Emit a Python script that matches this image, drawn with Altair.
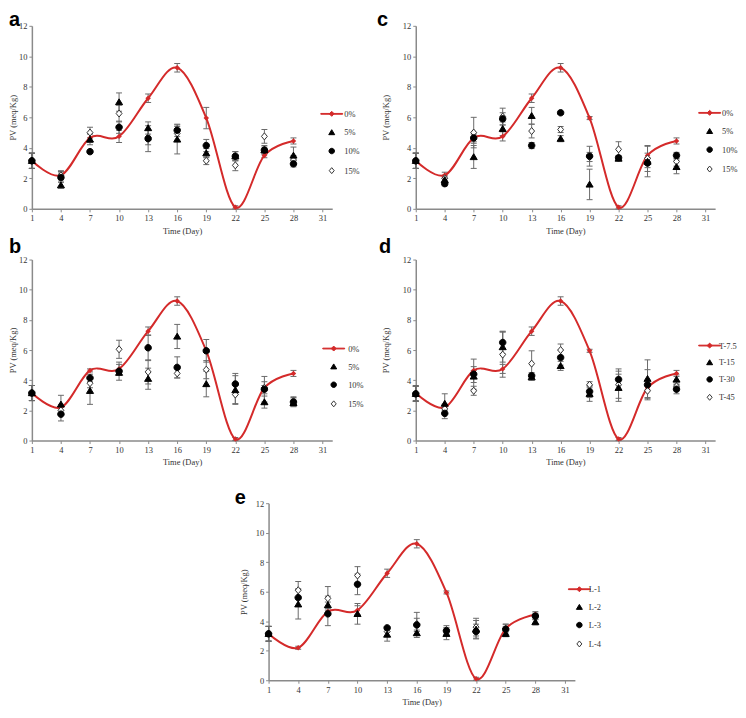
import altair as alt
import pandas as pd

DAYS = [1, 4, 7, 10, 13, 16, 19, 22, 25, 28]
X_TICKS = [1, 4, 7, 10, 13, 16, 19, 22, 25, 28, 31]
Y_TICKS = [0, 2, 4, 6, 8, 10, 12]

LABELS_PCT = ["0%", "5%", "10%", "15%"]
LABELS_T = ["T-7.5", "T-15", "T-30", "T-45"]
LABELS_L = ["L-1", "L-2", "L-3", "L-4"]

# control (red) series, identical in every panel
CONTROL = [3.15, 2.2, 4.65, 4.75, 7.25, 9.25, 5.95, 0.1, 3.5, 4.45]

# panel a
A_RED_ERR = [0.5, 0.25, 0.3, 0.4, 0.28, 0.28, 0.7, 0.1, 0.15, 0.2]
A_5 = [3.15, 1.55, 4.55, 7.0, 5.3, 4.55, 3.65, 3.45, 3.85, 3.5]
A_5_ERR = [0.5, 0.2, 0.35, 0.6, 0.4, 0.95, 0.3, 0.3, 0.3, 0.55]
A_10 = [3.15, 2.05, 3.75, 5.35, 4.6, 5.15, 4.15, 3.45, 3.85, 2.95]
A_10_ERR = [0.5, 0.3, 0.1, 0.4, 0.85, 0.4, 0.4, 0.3, 0.2, 0.2]
A_15 = [3.15, 2.2, 5.0, 6.25, 4.7, 4.95, 3.15, 2.85, 4.75, 3.2]
A_15_ERR = [0.5, 0.3, 0.35, 0.55, 0.5, 0.45, 0.25, 0.35, 0.45, 0.3]

# panel b
B_RED_ERR = [0.5, 0.2, 0.1, 0.3, 0.28, 0.28, 0.1, 0.1, 0.15, 0.2]
B_5 = [3.15, 2.4, 3.3, 4.5, 4.1, 6.9, 3.75, 3.35, 2.55, 2.5]
B_5_ERR = [0.5, 0.6, 0.9, 0.15, 0.7, 0.8, 0.85, 0.95, 0.4, 0.25]
B_10 = [3.15, 1.75, 4.15, 4.6, 6.15, 4.85, 5.95, 3.75, 3.4, 2.55]
B_10_ERR = [0.5, 0.45, 0.25, 0.6, 0.85, 0.7, 0.75, 0.7, 0.85, 0.3]
B_15 = [3.15, 2.0, 3.8, 6.05, 4.55, 4.45, 4.7, 3.05, 3.5, 2.6]
B_15_ERR = [0.5, 0.3, 0.3, 0.6, 0.8, 0.3, 0.6, 0.6, 0.4, 0.3]

# panel c
C_RED_ERR = [0.5, 0.2, 0.25, 0.3, 0.28, 0.28, 0.1, 0.1, 0.15, 0.2]
C_5 = [3.15, 1.9, 3.4, 5.25, 6.1, 4.6, 1.6, 3.3, 3.1, 2.75]
C_5_ERR = [0.5, 0.2, 0.75, 0.45, 0.55, 0.2, 1.0, 0.15, 1.0, 0.45]
C_10 = [3.15, 1.65, 4.65, 5.9, 4.15, 6.3, 3.45, 3.35, 3.0, 3.5]
C_10_ERR = [0.5, 0.15, 0.35, 0.4, 0.2, 0.1, 0.65, 0.15, 0.3, 0.2]
C_15 = [3.15, 2.0, 5.0, 6.05, 5.1, 5.2, 3.4, 3.9, 3.3, 3.1]
C_15_ERR = [0.5, 0.2, 1.0, 0.55, 0.45, 0.2, 0.3, 0.5, 0.85, 0.3]

# panel d
D_RED_ERR = [0.5, 0.2, 0.25, 0.3, 0.28, 0.28, 0.1, 0.1, 0.15, 0.2]
D_15 = [3.1, 2.45, 4.25, 6.2, 4.2, 4.95, 3.1, 3.5, 4.1, 4.05]
D_15_ERR = [0.5, 0.65, 0.4, 1.0, 0.2, 0.3, 0.5, 0.9, 1.25, 0.3]
D_30 = [3.1, 1.8, 4.4, 6.5, 4.3, 5.5, 3.25, 4.05, 3.7, 3.4]
D_30_ERR = [0.5, 0.35, 1.0, 0.75, 0.2, 0.5, 0.4, 0.7, 1.0, 0.3]
D_45 = [3.1, 2.1, 3.3, 5.7, 5.1, 6.0, 3.7, 3.7, 3.3, 3.6]
D_45_ERR = [0.5, 0.3, 0.3, 1.5, 0.85, 0.4, 0.2, 0.9, 0.5, 0.3]

# panel e
E_RED_ERR = [0.5, 0.1, 0.2, 0.3, 0.28, 0.28, 0.1, 0.1, 0.15, 0.2]
E_2 = [3.15, 5.15, 5.1, 4.5, 3.1, 3.2, 3.15, 3.45, 3.15, 3.95]
E_2_ERR = [0.5, 1.0, 0.6, 0.7, 0.45, 0.1, 0.4, 0.6, 0.2, 0.2]
E_3 = [3.15, 5.6, 4.5, 6.5, 3.55, 3.75, 3.35, 3.3, 3.45, 4.35]
E_3_ERR = [0.5, 0.6, 0.8, 0.7, 0.1, 0.85, 0.2, 0.5, 0.35, 0.2]
E_4 = [3.15, 6.1, 5.55, 7.1, 3.3, 3.8, 3.4, 3.6, 3.5, 4.3]
E_4_ERR = [0.5, 0.6, 0.8, 0.6, 0.3, 0.4, 0.3, 0.6, 0.3, 0.2]

RED = "#d42a2a"
ERR = "#6a6a6a"
SERIF = "Liberation Serif"

# legend / point shapes in symbol unit space
RED_PATH = "M-2.2,-0.08L2.2,-0.08L2.2,0.08L-2.2,0.08Z M0,-0.5L0.5,0L0,0.5L-0.5,0Z"
TRI_PATH = "M0,-0.55L0.6,0.45L-0.6,0.45Z"
CIRC_PATH = "M0.55,0A0.55,0.55 0 1,1 -0.55,0A0.55,0.55 0 1,1 0.55,0Z"
DIA_PATH = "M0,-0.6L0.5,0L0,0.6L-0.5,0Z"
SHAPES = [RED_PATH, TRI_PATH, CIRC_PATH, DIA_PATH]
FILLS = [RED, "black", "black", "white"]
STROKES = [RED, "black", "black", "#333333"]


def build_panel(letter, labels, values, errors, width, height, lx, ly, loff, rowpad,
                letter_dx, letter_off, ytitle_pad):
    rows = []
    for name, vals, errs in zip(labels, values, errors):
        for d, v, e in zip(DAYS, vals, errs):
            rows.append({"day": d, "series": name, "value": v,
                         "low": round(v - e, 3), "high": round(v + e, 3)})
    df = pd.DataFrame(rows)
    ctrl = df[df.series == labels[0]]
    treat = pd.concat([df[df.series == n] for n in (labels[3], labels[1], labels[2])])

    xaxis = alt.Axis(values=X_TICKS, title="Time (Day)", labelFlush=False, titlePadding=4)
    yaxis = alt.Axis(values=Y_TICKS, title="PV (meq/Kg)", labelFlush=False,
                     titlePadding=ytitle_pad)
    xs = alt.Scale(domain=[1, 32], nice=False, zero=False)
    ys = alt.Scale(domain=[0, 12], nice=False)
    x = alt.X("day:Q", scale=xs, axis=xaxis)

    def y(field):
        return alt.Y(field + ":Q", scale=ys, axis=yaxis)

    stems = alt.Chart(df).mark_rule(color=ERR, strokeWidth=1).encode(x=x, y=y("low"), y2="high:Q")
    cap_lo = alt.Chart(df).mark_tick(orient="horizontal", size=6, thickness=1, color=ERR,
                                     opacity=1).encode(x=x, y=y("low"))
    cap_hi = alt.Chart(df).mark_tick(orient="horizontal", size=6, thickness=1, color=ERR,
                                     opacity=1).encode(x=x, y=y("high"))
    line = alt.Chart(ctrl).mark_line(interpolate="cardinal", color=RED, strokeWidth=2).encode(
        x=x, y=y("value"))
    redpts = alt.Chart(ctrl).mark_point(shape="diamond", filled=True, color=RED, size=30,
                                        opacity=1).encode(x=x, y=y("value"))
    leg = alt.Legend(orient="none", legendX=lx, legendY=ly, title=None, symbolSize=100,
                     symbolStrokeWidth=1, labelOffset=loff, rowPadding=rowpad, padding=0,
                     labelFont=SERIF, labelFontSize=8.5, labelColor="#333333",
                     symbolOpacity=1)
    pts = alt.Chart(treat).mark_point(filled=True, size=140, opacity=1, strokeWidth=1).encode(
        x=x, y=y("value"),
        shape=alt.Shape("series:N", scale=alt.Scale(domain=labels, range=SHAPES), legend=leg),
        fill=alt.Fill("series:N", scale=alt.Scale(domain=labels, range=FILLS), legend=leg),
        stroke=alt.Stroke("series:N", scale=alt.Scale(domain=labels, range=STROKES), legend=leg),
    )
    title = alt.TitleParams(text=letter, anchor="start", frame="group", dx=letter_dx,
                            offset=letter_off, fontSize=20, font="Liberation Sans",
                            fontWeight="bold", color="black", baseline="alphabetic")
    return alt.layer(stems, cap_lo, cap_hi, line, redpts, pts).properties(
        width=width, height=height, title=title)


pa = build_panel("a", LABELS_PCT, [CONTROL, A_5, A_10, A_15],
                 [A_RED_ERR, A_5_ERR, A_10_ERR, A_15_ERR], 302, 184, 296, 83, 7, 8.7,
                 -23, -24, 1)
pc = build_panel("c", LABELS_PCT, [CONTROL, C_5, C_10, C_15],
                 [C_RED_ERR, C_5_ERR, C_10_ERR, C_15_ERR], 301, 184, 290, 82, 7, 8.5,
                 -39, -24, 12)
pb = build_panel("b", LABELS_PCT, [CONTROL, B_5, B_10, B_15],
                 [B_RED_ERR, B_5_ERR, B_10_ERR, B_15_ERR], 302, 182, 298, 84, 9, 8.2,
                 -23, -17, 1)
pd_ = build_panel("d", LABELS_T, [CONTROL, D_15, D_30, D_45],
                  [D_RED_ERR, D_15_ERR, D_30_ERR, D_45_ERR], 301, 182, 290, 81, 4, 7,
                  -37, -17, 12)
pe = build_panel("e", LABELS_L, [CONTROL, E_2, E_3, E_4],
                 [E_RED_ERR, E_2_ERR, E_3_ERR, E_4_ERR], 308, 178, 307, 81, 4, 8,
                 -34, -25, 7)

spacer = alt.Chart(pd.DataFrame({"v": [0]})).mark_point(opacity=0).encode(
    x=alt.X("v:Q", axis=None), y=alt.Y("v:Q", axis=None)).properties(width=228, height=178)

IND = dict(shape="independent", fill="independent", stroke="independent")

row1 = alt.hconcat(pa, pc, spacing=84, bounds="flush").resolve_scale(**IND).resolve_legend(**IND)
row2 = alt.hconcat(pb, pd_, spacing=84, bounds="flush").resolve_scale(**IND).resolve_legend(**IND)
row3 = alt.hconcat(spacer, pe, spacing=10, bounds="flush").resolve_scale(**IND).resolve_legend(**IND)

top = alt.vconcat(row1, row2, spacing=2).resolve_scale(**IND).resolve_legend(**IND)

chart = (
    alt.vconcat(top, row3, spacing=22)
    .resolve_scale(**IND).resolve_legend(**IND)
    .properties(padding=0, background="white")
    .configure_view(stroke=None)
    .configure_axis(domainColor="#8a8a8a", domainWidth=1.5, tickColor="#8a8a8a", tickSize=3,
                    tickWidth=1, labelFont=SERIF, labelFontSize=8.5, labelColor="#333333",
                    titleFont=SERIF, titleFontSize=8.5, titleFontWeight="normal",
                    titleColor="#333333", grid=False, labelPadding=2)
)

chart.save("out.html", embed_options={"renderer": "svg", "actions": False})
